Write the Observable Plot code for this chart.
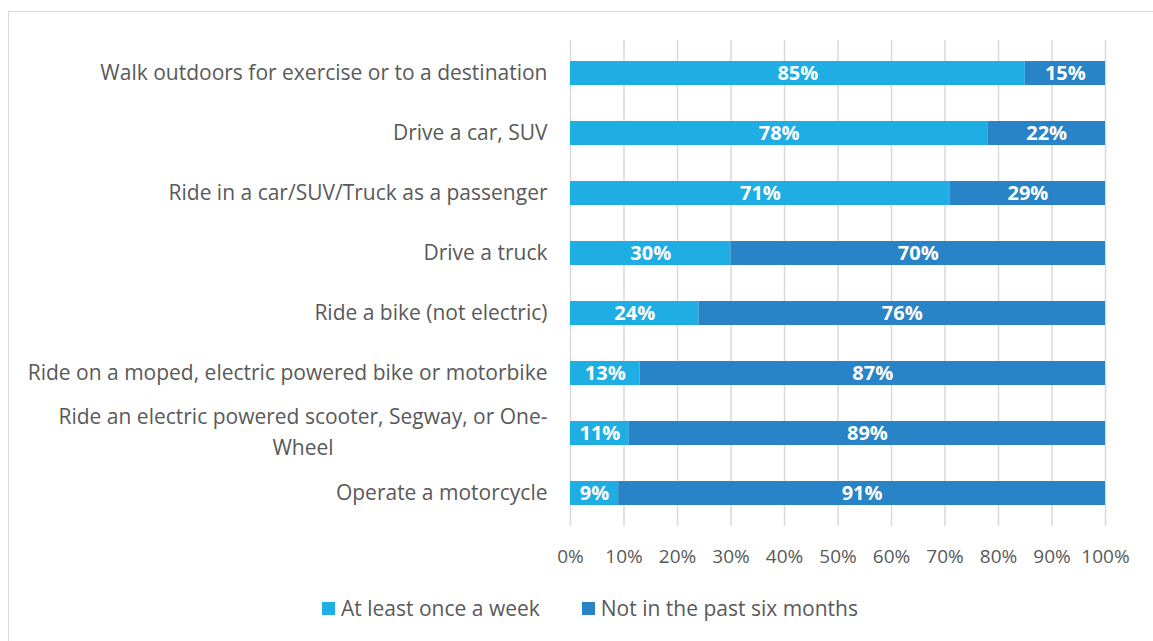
<!DOCTYPE html>
<html>
<head>
<meta charset="utf-8">
<script src="https://cdn.jsdelivr.net/npm/d3@7"></script>
<script src="https://cdn.jsdelivr.net/npm/@observablehq/plot@0.6"></script>
<style>
  html, body { margin: 0; padding: 0; background: #fff; }
  body { width: 1153px; height: 641px; position: relative; overflow: hidden; font-family: "Open Sans", Lato, sans-serif; }
  #frame { position: absolute; left: 8px; top: 11px; width: 1300px; height: 800px; border-top: 1px solid #d9d9d9; border-left: 1px solid #d9d9d9; }
  #chart { position: absolute; left: 0; top: 0; }
  #legend { position: absolute; top: 594px; left: 0; width: 1180px; display: flex; justify-content: center; gap: 42px; font-size: 21px; color: #595959; }
  .item { display: flex; align-items: center; gap: 6px; }
  .sw { width: 13px; height: 13px; display: inline-block; }
</style>
</head>
<body>
<div id="frame"></div>
<div id="chart"></div>
<div id="legend"></div>
<script>
const categories = [
  "Walk outdoors for exercise or to a destination",
  "Drive a car, SUV",
  "Ride in a car/SUV/Truck as a passenger",
  "Drive a truck",
  "Ride a bike (not electric)",
  "Ride on a moped, electric powered bike or motorbike",
  "Ride an electric powered scooter, Segway, or One-Wheel",
  "Operate a motorcycle"
];
const seriesNames = ["At least once a week", "Not in the past six months"];
const atLeastWeekly = [85, 78, 71, 30, 24, 13, 11, 9];
const notInSixMonths = [15, 22, 29, 70, 76, 87, 89, 91];
const xTicks = [0, 0.1, 0.2, 0.3, 0.4, 0.5, 0.6, 0.7, 0.8, 0.9, 1];
const colors = ["#1faee3", "#2884c6"];
const wrapped = "Ride an electric powered scooter, Segway, or One-Wheel";
const wrappedLine1 = "Ride an electric powered scooter, Segway, or One-";
const wrappedLine2 = "Wheel";

const data = [];
categories.forEach((c, i) => {
  data.push({cat: c, series: seriesNames[0], value: atLeastWeekly[i] / 100});
  data.push({cat: c, series: seriesNames[1], value: notInSixMonths[i] / 100});
});

const textColor = "#595959";
const fontFam = "'Open Sans', Lato, sans-serif";
const labelSize = 21;

// measure first line width to center the second line under it
const ctx = document.createElement("canvas").getContext("2d");
ctx.font = `${labelSize}px ${fontFam}`;
const line1W = ctx.measureText(wrappedLine1).width;

const plot = Plot.plot({
  width: 1153,
  height: 580,
  marginLeft: 570,
  marginRight: 48,
  marginTop: 40,
  marginBottom: 54,
  style: {fontFamily: fontFam, fontSize: "19px", color: textColor, background: "transparent"},
  x: {domain: [0, 1]},
  y: {domain: categories, paddingInner: 0.6, paddingOuter: 0.3},
  color: {domain: seriesNames, range: colors},
  marks: [
    Plot.gridX(xTicks, {stroke: "#d9d9d9", strokeOpacity: 1, strokeWidth: 1.5}),
    Plot.barX(data, Plot.stackX({x: "value", y: "cat", fill: "series", order: seriesNames})),
    Plot.text(data, Plot.stackX({x: "value", y: "cat", z: "series", order: seriesNames,
      text: d => Math.round(d.value * 100) + "%", fill: "white", fontWeight: "bold", fontSize: 20})),
    Plot.axisX({ticks: xTicks, tickFormat: d => Math.round(d * 100) + "%", tickSize: 0, tickPadding: 23, label: null, fill: textColor, fontSize: 19}),
    Plot.axisY(categories.filter(c => c !== wrapped), {tickSize: 0, tickPadding: 23, label: null, fill: textColor, fontSize: labelSize}),
    Plot.axisY([wrapped], {tickSize: 0, tickPadding: 23, label: null, fill: textColor, fontSize: labelSize,
      tickFormat: () => wrappedLine1, dy: -16}),
    Plot.axisY([wrapped], {tickSize: 0, tickPadding: 23, label: null, fill: textColor, fontSize: labelSize,
      tickFormat: () => wrappedLine2, textAnchor: "middle", dx: -line1W / 2, dy: 15})
  ]
});
document.getElementById("chart").appendChild(plot);

const legend = document.getElementById("legend");
seriesNames.forEach((s, i) => {
  const item = document.createElement("div");
  item.className = "item";
  const sw = document.createElement("span");
  sw.className = "sw";
  sw.style.background = colors[i];
  const t = document.createElement("span");
  t.textContent = s;
  item.appendChild(sw);
  item.appendChild(t);
  legend.appendChild(item);
});
</script>
</body>
</html>
